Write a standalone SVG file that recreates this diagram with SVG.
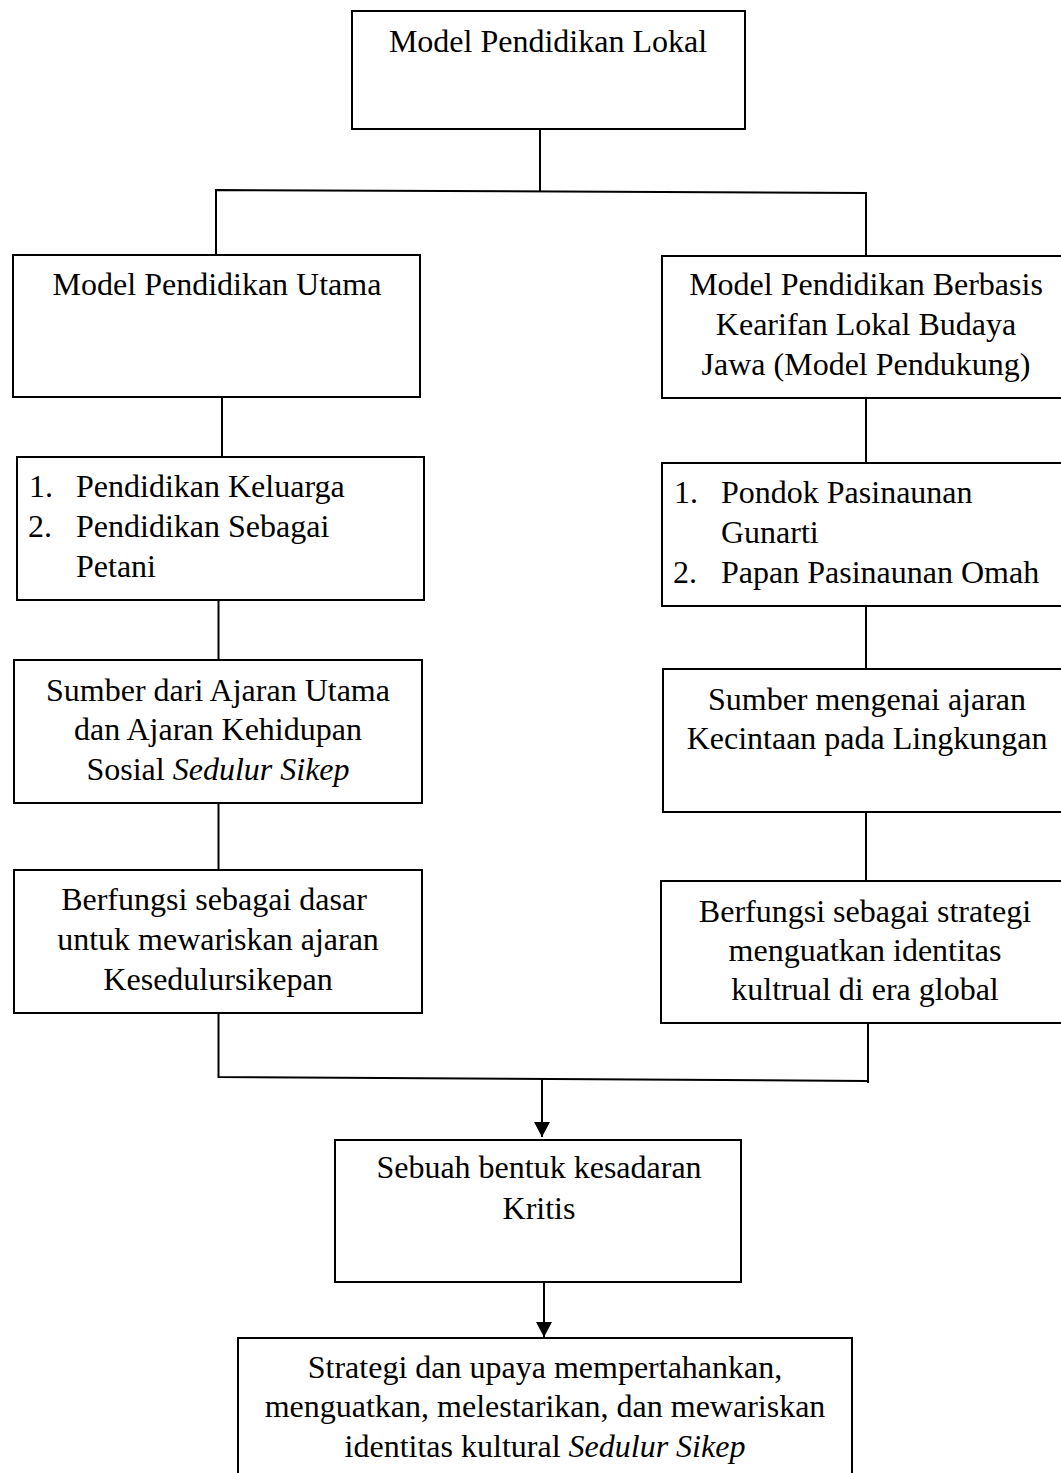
<svg xmlns="http://www.w3.org/2000/svg" width="1061" height="1473" viewBox="0 0 1061 1473">
<style>
.box{fill:#fff;stroke:#000;stroke-width:2}
.t{font-family:"Liberation Serif","Times New Roman",serif;font-size:32px;fill:#000}
.c{text-anchor:middle}
.i{font-style:italic}
.ln{fill:none;stroke:#000;stroke-width:2}
</style>
<defs>
<marker id="ah" markerUnits="userSpaceOnUse" markerWidth="16" markerHeight="16" viewBox="0 0 16 16" refX="8" refY="15" orient="auto-start-reverse">
<path d="M0,0 L16,0 L8,15 Z" fill="#000" transform="rotate(-90 8 8)"/>
</marker>
<marker id="ad" markerUnits="userSpaceOnUse" markerWidth="16" markerHeight="16" viewBox="0 0 16 16" refX="8" refY="15" orient="0">
<path d="M0,0 L16,0 L8,15 Z" fill="#000"/>
</marker>
</defs>
<rect width="1061" height="1473" fill="#fff"/>
<g id="connectors">
<line class="ln" x1="540" y1="129" x2="540" y2="192"/>
<polyline class="ln" points="216,256 216,190 866,193 866,256"/>
<line class="ln" x1="222" y1="397" x2="222" y2="457"/>
<line class="ln" x1="218.5" y1="600" x2="218.5" y2="660"/>
<line class="ln" x1="218.5" y1="803" x2="218.5" y2="870"/>
<line class="ln" x1="866" y1="398" x2="866" y2="463"/>
<line class="ln" x1="866" y1="606" x2="866" y2="669"/>
<line class="ln" x1="866" y1="812" x2="866" y2="881"/>
<polyline class="ln" points="218.5,1013 218.5,1077 868,1081"/>
<line class="ln" x1="868" y1="1021" x2="868" y2="1083"/>
<line class="ln" x1="542" y1="1079" x2="542" y2="1137" marker-end="url(#ad)"/>
<line class="ln" x1="544" y1="1278" x2="544" y2="1337" marker-end="url(#ad)"/>
</g>
<g id="n-lokal">
<rect class="box" x="352" y="11" width="393" height="118"/>
<text class="t c" x="548" y="52">Model Pendidikan Lokal</text>
</g>
<g id="n-utama">
<rect class="box" x="13" y="255" width="407" height="142"/>
<text class="t c" x="217" y="295">Model Pendidikan Utama</text>
</g>
<g id="n-list-left">
<rect class="box" x="17" y="457" width="407" height="143"/>
<text class="t" x="29" y="497">1.</text>
<text class="t" x="76" y="497">Pendidikan Keluarga</text>
<text class="t" x="28" y="537">2.</text>
<text class="t" x="76" y="537">Pendidikan Sebagai</text>
<text class="t" x="76" y="577">Petani</text>
</g>
<g id="n-sumber-left">
<rect class="box" x="14" y="660" width="408" height="143"/>
<text class="t c" x="218" y="701">Sumber dari Ajaran Utama</text>
<text class="t c" x="218" y="740">dan Ajaran Kehidupan</text>
<text class="t c" x="218" y="780">Sosial <tspan class="i">Sedulur Sikep</tspan></text>
</g>
<g id="n-fungsi-left">
<rect class="box" x="14" y="870" width="408" height="143"/>
<text class="t c" x="214" y="910">Berfungsi sebagai dasar</text>
<text class="t c" x="218" y="950">untuk mewariskan ajaran</text>
<text class="t c" x="218" y="990">Kesedulursikepan</text>
</g>
<g id="n-berbasis">
<rect class="box" x="662" y="256" width="410" height="142"/>
<text class="t c" x="866" y="295">Model Pendidikan Berbasis</text>
<text class="t c" x="866" y="335">Kearifan Lokal Budaya</text>
<text class="t c" x="866" y="375">Jawa (Model Pendukung)</text>
</g>
<g id="n-list-right">
<rect class="box" x="662" y="463" width="410" height="143"/>
<text class="t" x="674" y="503">1.</text>
<text class="t" x="721" y="503">Pondok Pasinaunan</text>
<text class="t" x="721" y="543">Gunarti</text>
<text class="t" x="673" y="583">2.</text>
<text class="t" x="721" y="583">Papan Pasinaunan Omah</text>
</g>
<g id="n-sumber-right">
<rect class="box" x="663" y="669" width="410" height="143"/>
<text class="t c" x="867" y="710">Sumber mengenai ajaran</text>
<text class="t c" x="867" y="749">Kecintaan pada Lingkungan</text>
</g>
<g id="n-fungsi-right">
<rect class="box" x="661" y="881" width="410" height="142"/>
<text class="t c" x="865" y="922">Berfungsi sebagai strategi</text>
<text class="t c" x="865" y="961">menguatkan identitas</text>
<text class="t c" x="865" y="1000">kultrual di era global</text>
</g>
<g id="n-kritis">
<rect class="box" x="335" y="1140" width="406" height="142"/>
<text class="t c" x="539" y="1178">Sebuah bentuk kesadaran</text>
<text class="t c" x="539" y="1219">Kritis</text>
</g>
<g id="n-strategi">
<rect class="box" x="238" y="1338" width="614" height="150"/>
<text class="t c" x="545" y="1378">Strategi dan upaya mempertahankan,</text>
<text class="t c" x="545" y="1417">menguatkan, melestarikan, dan mewariskan</text>
<text class="t c" x="545" y="1457">identitas kultural <tspan class="i">Sedulur Sikep</tspan></text>
</g>
</svg>
